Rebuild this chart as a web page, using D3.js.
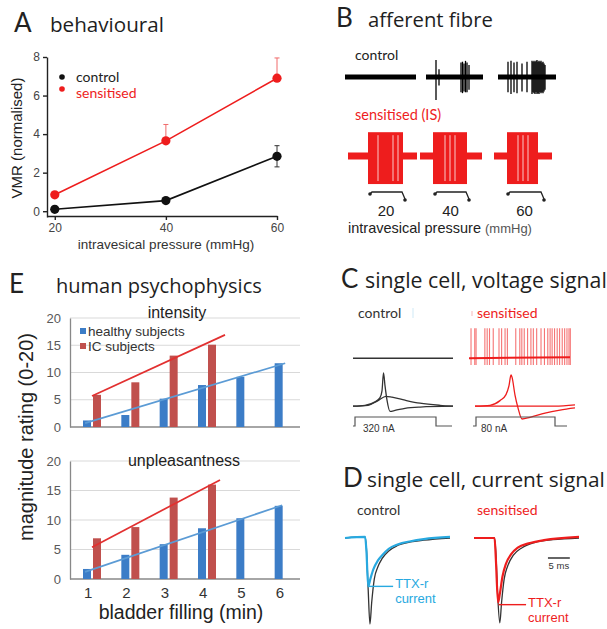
<!DOCTYPE html>
<html>
<head>
<meta charset="utf-8">
<script src="https://cdn.jsdelivr.net/npm/d3@7"></script>
<style>
  html, body { margin: 0; padding: 0; background: #fff; }
  svg { display: block; }
  text { font-family: "Liberation Sans", Arial, sans-serif; }
  .ttl { font-family: Lato, "Open Sans", sans-serif; }
  .head { font-family: "Open Sans", Lato, sans-serif; }
</style>
</head>
<body>
<svg id="fig" width="607" height="629"></svg>
<script>
// ---------- A: behavioural (VMR vs intravesical pressure) ----------
const pressures = [20, 40, 60];
const vmrTicks = [0, 2, 4, 6, 8];
const vmrControl = [0.1, 0.55, 2.85];
const vmrControlErr = [0.05, 0.08, 0.55];
const vmrSensitised = [0.85, 3.65, 6.9];
const vmrSensitisedErr = [0.1, 0.85, 1.05];

// ---------- B: afferent fibre recordings (time in s, amplitude normalised) ----------
const fibreControlSweeps = [
  { start: 0, end: 7.1, spikes: [] },
  { start: 8.1, end: 13.8, spikes: [
    [9.1, 1.0, 1.35], [9.4, 0.45, 0.5], [11.6, 0.85, 0.9], [11.75, 0.9, 0.95],
    [11.9, 0.8, 0.85], [12.05, 0.95, 0.9], [12.2, 0.85, 0.9], [12.4, 0.7, 0.75]] },
  { start: 15.3, end: 21.1, spikes: [
    [16.3, 0.9, 0.9], [16.6, 0.95, 1.0], [16.9, 0.85, 0.9], [17.2, 0.9, 0.95],
    [17.7, 0.8, 0.85], [18.2, 0.9, 0.9], [18.7, 0.95, 1.0], [18.8, 0.9, 0.9],
    [18.9, 0.95, 0.95], [19.0, 0.9, 1.0], [19.1, 0.95, 0.9], [19.2, 1.0, 1.0],
    [19.3, 0.9, 0.95], [19.4, 0.95, 1.0], [19.5, 0.9, 0.9], [19.6, 0.95, 0.95],
    [19.7, 0.85, 0.9], [19.8, 0.9, 0.95], [19.9, 0.8, 0.85], [20.0, 0.7, 0.75]] }
];
const fibreSensitisedSweeps = [
  { start: 0.3, end: 7.2, burst: [2.3, 5.8], gaps: [3.3, 4.8, 5.3] },
  { start: 7.5, end: 13.7, burst: [8.8, 12.2], gaps: [10.0, 10.5, 11.0] },
  { start: 14.9, end: 20.7, burst: [16.2, 19.3], gaps: [17.3, 17.8, 18.3] }
];
const burstAmplitude = [1.4, 1.65];
const distensionWindows = [[2.5, 5.7], [9.0, 12.1], [16.3, 19.6]];

// ---------- C: single cell, voltage signal (t in % of sweep, V in mV) ----------
const sensitisedSpikeTimes = [2, 5.7, 7, 15.7, 18, 20.3, 24, 29.7, 32.3, 35.7, 38, 46.3,
  50.3, 52.3, 54.7, 58, 61.3, 63.7, 67, 71.3, 74.7, 78, 80.3, 82.3, 84.7, 87.3, 89.7,
  92.3, 94.7, 97, 99, 100.3];
const controlSpikeTrace = [[0, -60], [12, -58], [22, -50], [27, -40], [29, -24], [30.5, 18],
  [32, -12], [34, -46], [37, -72], [42, -70], [52, -65], [67, -62], [100, -60]];
const controlSubTrace = [[0, -60], [15, -58], [25, -47], [33, -37], [39, -39], [52, -46],
  [67, -53], [87, -58], [100, -60]];
const sensitisedSpikeTrace = [[0, -60], [15, -58], [25, -47], [31, -33], [34, -12], [36, 13],
  [37, 8], [40, -34], [43, -64], [47, -90], [55, -86], [70, -76], [85, -69], [100, -64]];
const sensitisedSubTrace = [[0, -60], [80, -60], [100, -57]];
const controlStep = [[0, 0], [2, 1], [83, 0], [99, 0]];
const sensitisedStep = [[-2, 0], [1, 1], [80, 0], [92, 0]];
const stepLabels = ["320 nA", "80 nA"];

// ---------- D: single cell, current signal (t in ms, I in nA) ----------
const controlTotalCurrent = [[0, 0], [4.6, 0.05], [4.9, -0.5], [5.3, -2.4], [5.7, -4.0], [6.1, -3.0],
  [6.7, -1.9], [7.5, -1.35], [8.5, -0.95], [10, -0.6], [12, -0.35], [15, -0.18], [18, -0.1], [24, 0]];
const controlTTXr = [[0, 0], [4.6, 0.05], [4.9, -0.6], [5.3, -2.25], [5.8, -1.9], [6.5, -1.45],
  [7.5, -1.05], [8.5, -0.8], [10, -0.5], [12, -0.3], [15, -0.15], [18, -0.05], [24, 0.05]];
const sensitisedTotalCurrent = [[0, 0], [4.7, 0], [5.0, -0.7], [5.4, -2.6], [5.9, -3.95], [6.3, -3.0],
  [6.9, -1.9], [7.7, -1.3], [9, -0.8], [11, -0.45], [14, -0.2], [18, -0.08], [24, 0]];
const sensitisedTTXr = [[0, 0], [4.7, 0], [5.0, -1.0], [5.5, -3.0], [5.9, -2.6], [6.5, -1.8],
  [7.3, -1.2], [8.5, -0.75], [10, -0.45], [12.5, -0.25], [16, -0.1], [24, 0.05]];
const scaleBarMs = [16.9, 21.9];

// ---------- E: human psychophysics ----------
const fillingMinutes = [1, 2, 3, 4, 5, 6];
const ratingTicks = [0, 5, 10, 15, 20];
const intensityHealthy = [1.2, 2.2, 5.2, 7.7, 9.2, 11.7];
const intensityIC = [5.9, 8.2, 13.1, 15.1];
const unpleasantHealthy = [1.7, 4.1, 5.9, 8.6, 10.3, 12.4];
const unpleasantIC = [6.9, 8.8, 13.8, 16.0];
const intensityTrendHealthy = [[0.92, 0.7], [6.14, 11.7]];
const intensityTrendIC = [[1.1, 5.7], [4.57, 16.9]];
const unpleasantTrendHealthy = [[0.92, 1.2], [6.06, 12.5]];
const unpleasantTrendIC = [[1.1, 5.4], [4.44, 16.8]];

const RED = "#ee1d1d";
const svg = d3.select("#fig");
svg.append("rect").attr("width", 607).attr("height", 629).attr("fill", "#fff");

// panel letter plus heading, heading scaled to a given run length
function title(letter, lx, text, tx, y, width) {
  svg.append("text").attr("class", "ttl").attr("x", lx).attr("y", y)
    .attr("font-size", 26).attr("fill", "#222").text(letter);
  const t = svg.append("text").attr("class", "head").attr("x", tx).attr("y", y)
    .attr("font-size", 20).attr("fill", "#1e1e1e").text(text);
  const w = t.node().getComputedTextLength();
  if (w > 0) t.attr("font-size", Math.min(22, 20 * width / w));
}

// ================= A =================
title("A", 14, "behavioural", 50, 32, 114);
{
  const g = svg.append("g");
  const x = d3.scaleLinear().domain([18.6, 60]).range([47, 277]);
  const y = d3.scaleLinear().domain([-0.3, 8]).range([217, 57]);
  const ax = g.append("g").attr("transform", "translate(0,216)")
    .call(d3.axisBottom(x).tickValues(pressures).tickSize(4).tickSizeOuter(0));
  const ay = g.append("g").attr("transform", "translate(47,0)")
    .call(d3.axisLeft(y).tickValues(vmrTicks).tickSize(4).tickSizeOuter(0));
  [ax, ay].forEach(a => {
    a.selectAll("path,line").attr("stroke", "#222").attr("stroke-width", 1.4);
    a.selectAll("text").attr("font-size", 12).attr("fill", "#444")
      .attr("font-family", "Liberation Sans, Arial, sans-serif");
  });
  const series = [
    { v: vmrControl, e: vmrControlErr, c: "#111", ec: "#333", both: true },
    { v: vmrSensitised, e: vmrSensitisedErr, c: RED, ec: "#f06a6a", both: false }
  ];
  series.forEach(s => {
    const pts = pressures.map((p, i) => [p, s.v[i], s.e[i]]);
    pts.forEach(d => {
      const y0 = s.both ? y(d[1] - d[2]) : y(d[1]);
      g.append("line").attr("x1", x(d[0])).attr("x2", x(d[0]))
        .attr("y1", y0).attr("y2", y(d[1] + d[2])).attr("stroke", s.ec).attr("stroke-width", 1);
      g.append("line").attr("x1", x(d[0]) - 2.5).attr("x2", x(d[0]) + 2.5)
        .attr("y1", y(d[1] + d[2])).attr("y2", y(d[1] + d[2])).attr("stroke", s.ec).attr("stroke-width", 1);
      if (s.both) g.append("line").attr("x1", x(d[0]) - 2.5).attr("x2", x(d[0]) + 2.5)
        .attr("y1", y0).attr("y2", y0).attr("stroke", s.ec).attr("stroke-width", 1);
    });
    g.append("path").datum(pts).attr("fill", "none").attr("stroke", s.c).attr("stroke-width", 1.6)
      .attr("d", d3.line().x(d => x(d[0])).y(d => y(d[1])));
    g.selectAll(null).data(pts).enter().append("circle")
      .attr("cx", d => x(d[0])).attr("cy", d => y(d[1])).attr("r", 4.6).attr("fill", s.c);
  });
  // legend
  g.append("circle").attr("cx", 62).attr("cy", 77).attr("r", 2.8).attr("fill", "#111");
  g.append("circle").attr("cx", 62).attr("cy", 89).attr("r", 2.8).attr("fill", RED);
  g.append("text").attr("class", "ttl").attr("x", 76).attr("y", 82).attr("font-size", 14).attr("fill", "#222").text("control");
  g.append("text").attr("class", "ttl").attr("x", 76).attr("y", 98).attr("font-size", 14).attr("fill", RED).text("sensitised");
  g.append("text").attr("transform", "translate(22,138) rotate(-90)").attr("text-anchor", "middle")
    .attr("font-size", 15).attr("fill", "#222").text("VMR (normalised)");
  g.append("text").attr("x", 166).attr("y", 249).attr("text-anchor", "middle")
    .attr("font-size", 13.5).attr("fill", "#333").text("intravesical pressure (mmHg)");
}

// ================= B =================
title("B", 336, "afferent fibre", 368, 27, 125);
{
  const g = svg.append("g");
  const x = d3.scaleLinear().domain([0, 21.2]).range([345, 557]);
  const amp = d3.scaleLinear().domain([-1, 1]).range([17, -17]);
  const yCtrl = 77, ySens = 156;
  g.append("text").attr("class", "ttl").attr("x", 355).attr("y", 60).attr("font-size", 14).attr("fill", "#222").text("control");
  g.append("text").attr("class", "ttl").attr("x", 355).attr("y", 120).attr("font-size", 14.5).attr("fill", RED).text("sensitised (IS)");
  fibreControlSweeps.forEach(sw => {
    g.append("line").attr("x1", x(sw.start)).attr("x2", x(sw.end)).attr("y1", yCtrl).attr("y2", yCtrl)
      .attr("stroke", "#000").attr("stroke-width", 5);
    sw.spikes.forEach(s => {
      g.append("line").attr("x1", x(s[0])).attr("x2", x(s[0]))
        .attr("y1", yCtrl + amp(s[1])).attr("y2", yCtrl + amp(-s[2]))
        .attr("stroke", "#000").attr("stroke-width", 1.3);
    });
  });
  fibreSensitisedSweeps.forEach(sw => {
    g.append("line").attr("x1", x(sw.start)).attr("x2", x(sw.end)).attr("y1", ySens).attr("y2", ySens)
      .attr("stroke", RED).attr("stroke-width", 7);
    const top = ySens + amp(burstAmplitude[0]), bot = ySens + amp(-burstAmplitude[1]);
    g.append("rect").attr("x", x(sw.burst[0])).attr("y", top)
      .attr("width", x(sw.burst[1]) - x(sw.burst[0])).attr("height", bot - top).attr("fill", RED);
    sw.gaps.forEach(t => {
      g.append("line").attr("x1", x(t)).attr("x2", x(t)).attr("y1", top + 3).attr("y2", bot - 3)
        .attr("stroke", "#fff").attr("stroke-width", 0.9).attr("opacity", 0.85);
    });
  });
  distensionWindows.forEach((w, i) => {
    const a = x(w[0]), b = x(w[1]);
    g.append("path").attr("d", `M${a},194 L${a + 2},192 H${b} L${b + 3},199`)
      .attr("fill", "none").attr("stroke", "#222").attr("stroke-width", 1.3);
    g.append("circle").attr("cx", a).attr("cy", 194).attr("r", 1.8).attr("fill", "#222");
    g.append("circle").attr("cx", b + 3).attr("cy", 200).attr("r", 1.8).attr("fill", "#222");
    g.append("text").attr("x", (a + b) / 2).attr("y", 216).attr("text-anchor", "middle")
      .attr("font-size", 15).attr("fill", "#222").text(pressures[i]);
  });
  const lab = g.append("text").attr("x", 348).attr("y", 233).attr("font-size", 14.5).attr("fill", "#222");
  lab.append("tspan").text("intravesical pressure ");
  lab.append("tspan").attr("font-size", 13).attr("fill", "#555").text("(mmHg)");
}

// ================= C =================
title("C", 341, "single cell, voltage signal", 365, 288, 242);
{
  const g = svg.append("g");
  const xc = d3.scaleLinear().domain([0, 100]).range([353, 453]);
  const xs = d3.scaleLinear().domain([0, 100]).range([475, 575]);
  const xsTop = d3.scaleLinear().domain([0, 100]).range([469, 570]);
  const v = d3.scaleLinear().domain([-90, 20]).range([419, 372]);
  const topShift = -48;
  const step = d3.scaleLinear().domain([0, 1]).range([426, 417]);
  g.append("text").attr("class", "ttl").attr("x", 358).attr("y", 318).attr("font-size", 14).attr("fill", "#333").text("control");
  g.append("text").attr("class", "ttl").attr("x", 477).attr("y", 318).attr("font-size", 14).attr("fill", RED).text("sensitised");
  g.append("line").attr("x1", 413).attr("x2", 413).attr("y1", 308).attr("y2", 318).attr("stroke", "#cfe9f6").attr("stroke-width", 1);
  g.append("line").attr("x1", 472).attr("x2", 472).attr("y1", 311).attr("y2", 316).attr("stroke", "#f6b9b9").attr("stroke-width", 1);
  // top sweeps
  g.append("line").attr("x1", xc(0)).attr("x2", xc(100)).attr("y1", v(-60) + topShift).attr("y2", v(-60) + topShift)
    .attr("stroke", "#333").attr("stroke-width", 1.5);
  sensitisedSpikeTimes.forEach(t => {
    g.append("line").attr("x1", xsTop(t)).attr("x2", xsTop(t))
      .attr("y1", v(10) + topShift).attr("y2", v(-76) + topShift)
      .attr("stroke", "#f23a3a").attr("stroke-width", 1.1).attr("opacity", 0.7);
  });
  g.append("line").attr("x1", xsTop(0)).attr("x2", xsTop(100)).attr("y1", v(-60) + topShift).attr("y2", v(-60) + topShift - 1)
    .attr("stroke", RED).attr("stroke-width", 2);
  // bottom sweeps
  const lineC = sx => d3.line().x(d => sx(d[0])).y(d => v(d[1])).curve(d3.curveMonotoneX);
  [controlSubTrace, controlSpikeTrace].forEach(tr => {
    g.append("path").datum(tr).attr("fill", "none").attr("stroke", "#333").attr("stroke-width", 1.3).attr("d", lineC(xc));
  });
  [sensitisedSubTrace, sensitisedSpikeTrace].forEach(tr => {
    g.append("path").datum(tr).attr("fill", "none").attr("stroke", RED).attr("stroke-width", 1.3).attr("d", lineC(xs));
  });
  const lineS = sx => d3.line().x(d => sx(d[0])).y(d => step(d[1])).curve(d3.curveStepAfter);
  g.append("path").datum(controlStep).attr("fill", "none").attr("stroke", "#555").attr("stroke-width", 1.2).attr("d", lineS(xc));
  g.append("path").datum(sensitisedStep).attr("fill", "none").attr("stroke", "#555").attr("stroke-width", 1.2).attr("d", lineS(xs));
  g.append("text").attr("x", 363).attr("y", 432).attr("font-size", 10).attr("fill", "#333").text(stepLabels[0]);
  g.append("text").attr("x", 481).attr("y", 432).attr("font-size", 10).attr("fill", "#333").text(stepLabels[1]);
}

// ================= D =================
title("D", 343, "single cell, current signal", 367, 487, 238);
{
  const g = svg.append("g");
  const xc = d3.scaleLinear().domain([0, 24]).range([345, 450]);
  const xs = d3.scaleLinear().domain([0, 24]).range([474, 579]);
  const y = d3.scaleLinear().domain([-4, 0]).range([624, 538]);
  const BLUE = "#28a9e0";
  g.append("text").attr("class", "ttl").attr("x", 357).attr("y", 515).attr("font-size", 14).attr("fill", "#333").text("control");
  g.append("text").attr("class", "ttl").attr("x", 477).attr("y", 515).attr("font-size", 14).attr("fill", RED).text("sensitised");
  const ln = sx => d3.line().x(d => sx(d[0])).y(d => y(d[1])).curve(d3.curveMonotoneX);
  g.append("path").datum(controlTotalCurrent).attr("fill", "none").attr("stroke", "#333").attr("stroke-width", 1.3).attr("d", ln(xc));
  g.append("path").datum(controlTTXr).attr("fill", "none").attr("stroke", BLUE).attr("stroke-width", 2.2).attr("d", ln(xc));
  g.append("path").datum(sensitisedTotalCurrent).attr("fill", "none").attr("stroke", "#333").attr("stroke-width", 1.3).attr("d", ln(xs));
  g.append("path").datum(sensitisedTTXr).attr("fill", "none").attr("stroke", RED).attr("stroke-width", 2.2).attr("d", ln(xs));
  // TTX-r annotations (two-line labels)
  const ann = [
    { sx: xc, t0: 5.4, i: -2.25, t1: 11.0, col: BLUE, y1: 588 },
    { sx: xs, t0: 5.6, i: -3.1, t1: 11.9, col: RED, y1: 607 }
  ];
  ann.forEach(a => {
    g.append("line").attr("x1", a.sx(a.t0)).attr("x2", a.sx(a.t1)).attr("y1", y(a.i)).attr("y2", y(a.i))
      .attr("stroke", a.col).attr("stroke-width", 1.4);
    g.append("text").attr("x", a.sx(a.t1) + 2).attr("y", a.y1).attr("font-size", 13).attr("fill", a.col).text("TTX-r");
    g.append("text").attr("x", a.sx(a.t1) + 2).attr("y", a.y1 + 14.5).attr("font-size", 13).attr("fill", a.col).text("current");
  });
  g.append("line").attr("x1", xs(scaleBarMs[0])).attr("x2", xs(scaleBarMs[1])).attr("y1", 558).attr("y2", 558)
    .attr("stroke", "#333").attr("stroke-width", 1.5);
  g.append("text").attr("x", (xs(scaleBarMs[0]) + xs(scaleBarMs[1])) / 2).attr("y", 569).attr("text-anchor", "middle")
    .attr("font-size", 9.5).attr("fill", "#333").text((scaleBarMs[1] - scaleBarMs[0]) + " ms");
}

// ================= E =================
title("E", 9, "human psychophysics", 56, 293, 206);
{
  const g = svg.append("g");
  const xBand = d3.scaleBand().domain(fillingMinutes).range([69, 299]);
  const xSer = d3.scaleBand().domain(["healthy", "IC"]).range([14, 32]).paddingInner(0.2);
  const catX = d3.scaleLinear().domain([1, 6])
    .range([xBand(1) + xBand.bandwidth() / 2, xBand(6) + xBand.bandwidth() / 2]);
  const BAR_BLUE = "#3c7dc7", BAR_RED = "#c0504d";
  const charts = [
    { y: d3.scaleLinear().domain([0, 20]).range([427, 318]), h: intensityHealthy, ic: intensityIC,
      th: intensityTrendHealthy, ti: intensityTrendIC, label: "intensity", lx: 177, ly: 318, xlabels: false },
    { y: d3.scaleLinear().domain([0, 20]).range([579, 461]), h: unpleasantHealthy, ic: unpleasantIC,
      th: unpleasantTrendHealthy, ti: unpleasantTrendIC, label: "unpleasantness", lx: 184, ly: 466, xlabels: true }
  ];
  charts.forEach(c => {
    ratingTicks.slice(1).forEach(t => {
      g.append("line").attr("x1", 70).attr("x2", 300).attr("y1", c.y(t)).attr("y2", c.y(t))
        .attr("stroke", "#d9d9d9").attr("stroke-width", 1);
    });
    const ay = g.append("g").attr("transform", "translate(70,0)")
      .call(d3.axisLeft(c.y).tickValues(ratingTicks).tickSize(0).tickSizeOuter(0).tickPadding(9));
    ay.select(".domain").attr("stroke", "#888").attr("stroke-width", 1.3);
    ay.selectAll("text").attr("font-size", 13).attr("fill", "#595959")
      .attr("font-family", "Liberation Sans, Arial, sans-serif");
    g.append("line").attr("x1", 70).attr("x2", 300).attr("y1", c.y(0)).attr("y2", c.y(0))
      .attr("stroke", "#888").attr("stroke-width", 1.3);
    g.selectAll(null).data(c.h).enter().append("rect")
      .attr("x", (d, i) => xBand(fillingMinutes[i]) + xSer("healthy")).attr("width", xSer.bandwidth())
      .attr("y", d => c.y(d)).attr("height", d => c.y(0) - c.y(d)).attr("fill", BAR_BLUE);
    g.selectAll(null).data(c.ic).enter().append("rect")
      .attr("x", (d, i) => xBand(fillingMinutes[i]) + xSer("IC")).attr("width", xSer.bandwidth())
      .attr("y", d => c.y(d)).attr("height", d => c.y(0) - c.y(d)).attr("fill", BAR_RED);
    const tl = d3.line().x(d => catX(d[0])).y(d => c.y(d[1]));
    g.append("path").datum(c.th).attr("fill", "none").attr("stroke", "#5b9bd5").attr("stroke-width", 1.7).attr("d", tl);
    g.append("path").datum(c.ti).attr("fill", "none").attr("stroke", "#e23030").attr("stroke-width", 1.7).attr("d", tl);
    g.append("text").attr("x", c.lx).attr("y", c.ly).attr("text-anchor", "middle")
      .attr("font-size", 16).attr("fill", "#222").text(c.label);
    if (c.xlabels) {
      const ax = g.append("g").attr("transform", `translate(0,${c.y(0)})`)
        .call(d3.axisBottom(xBand).tickSize(0).tickPadding(8));
      ax.select(".domain").remove();
      ax.selectAll("text").attr("font-size", 15).attr("fill", "#333")
        .attr("font-family", "Liberation Sans, Arial, sans-serif");
    }
  });
  // legend
  g.append("rect").attr("x", 80).attr("y", 328).attr("width", 6).attr("height", 6).attr("fill", BAR_BLUE);
  g.append("rect").attr("x", 80).attr("y", 343).attr("width", 6).attr("height", 6).attr("fill", BAR_RED);
  g.append("text").attr("x", 88).attr("y", 336).attr("font-size", 13.5).attr("fill", "#333").text("healthy subjects");
  g.append("text").attr("x", 88).attr("y", 351).attr("font-size", 13.5).attr("fill", "#333").text("IC subjects");
  g.append("text").attr("transform", "translate(33,437) rotate(-90)").attr("text-anchor", "middle")
    .attr("font-size", 20).attr("fill", "#222").text("magnitude rating (0-20)");
  g.append("text").attr("x", 181).attr("y", 619).attr("text-anchor", "middle")
    .attr("font-size", 19.5).attr("fill", "#222").text("bladder filling (min)");
}
</script>
</body>
</html>
